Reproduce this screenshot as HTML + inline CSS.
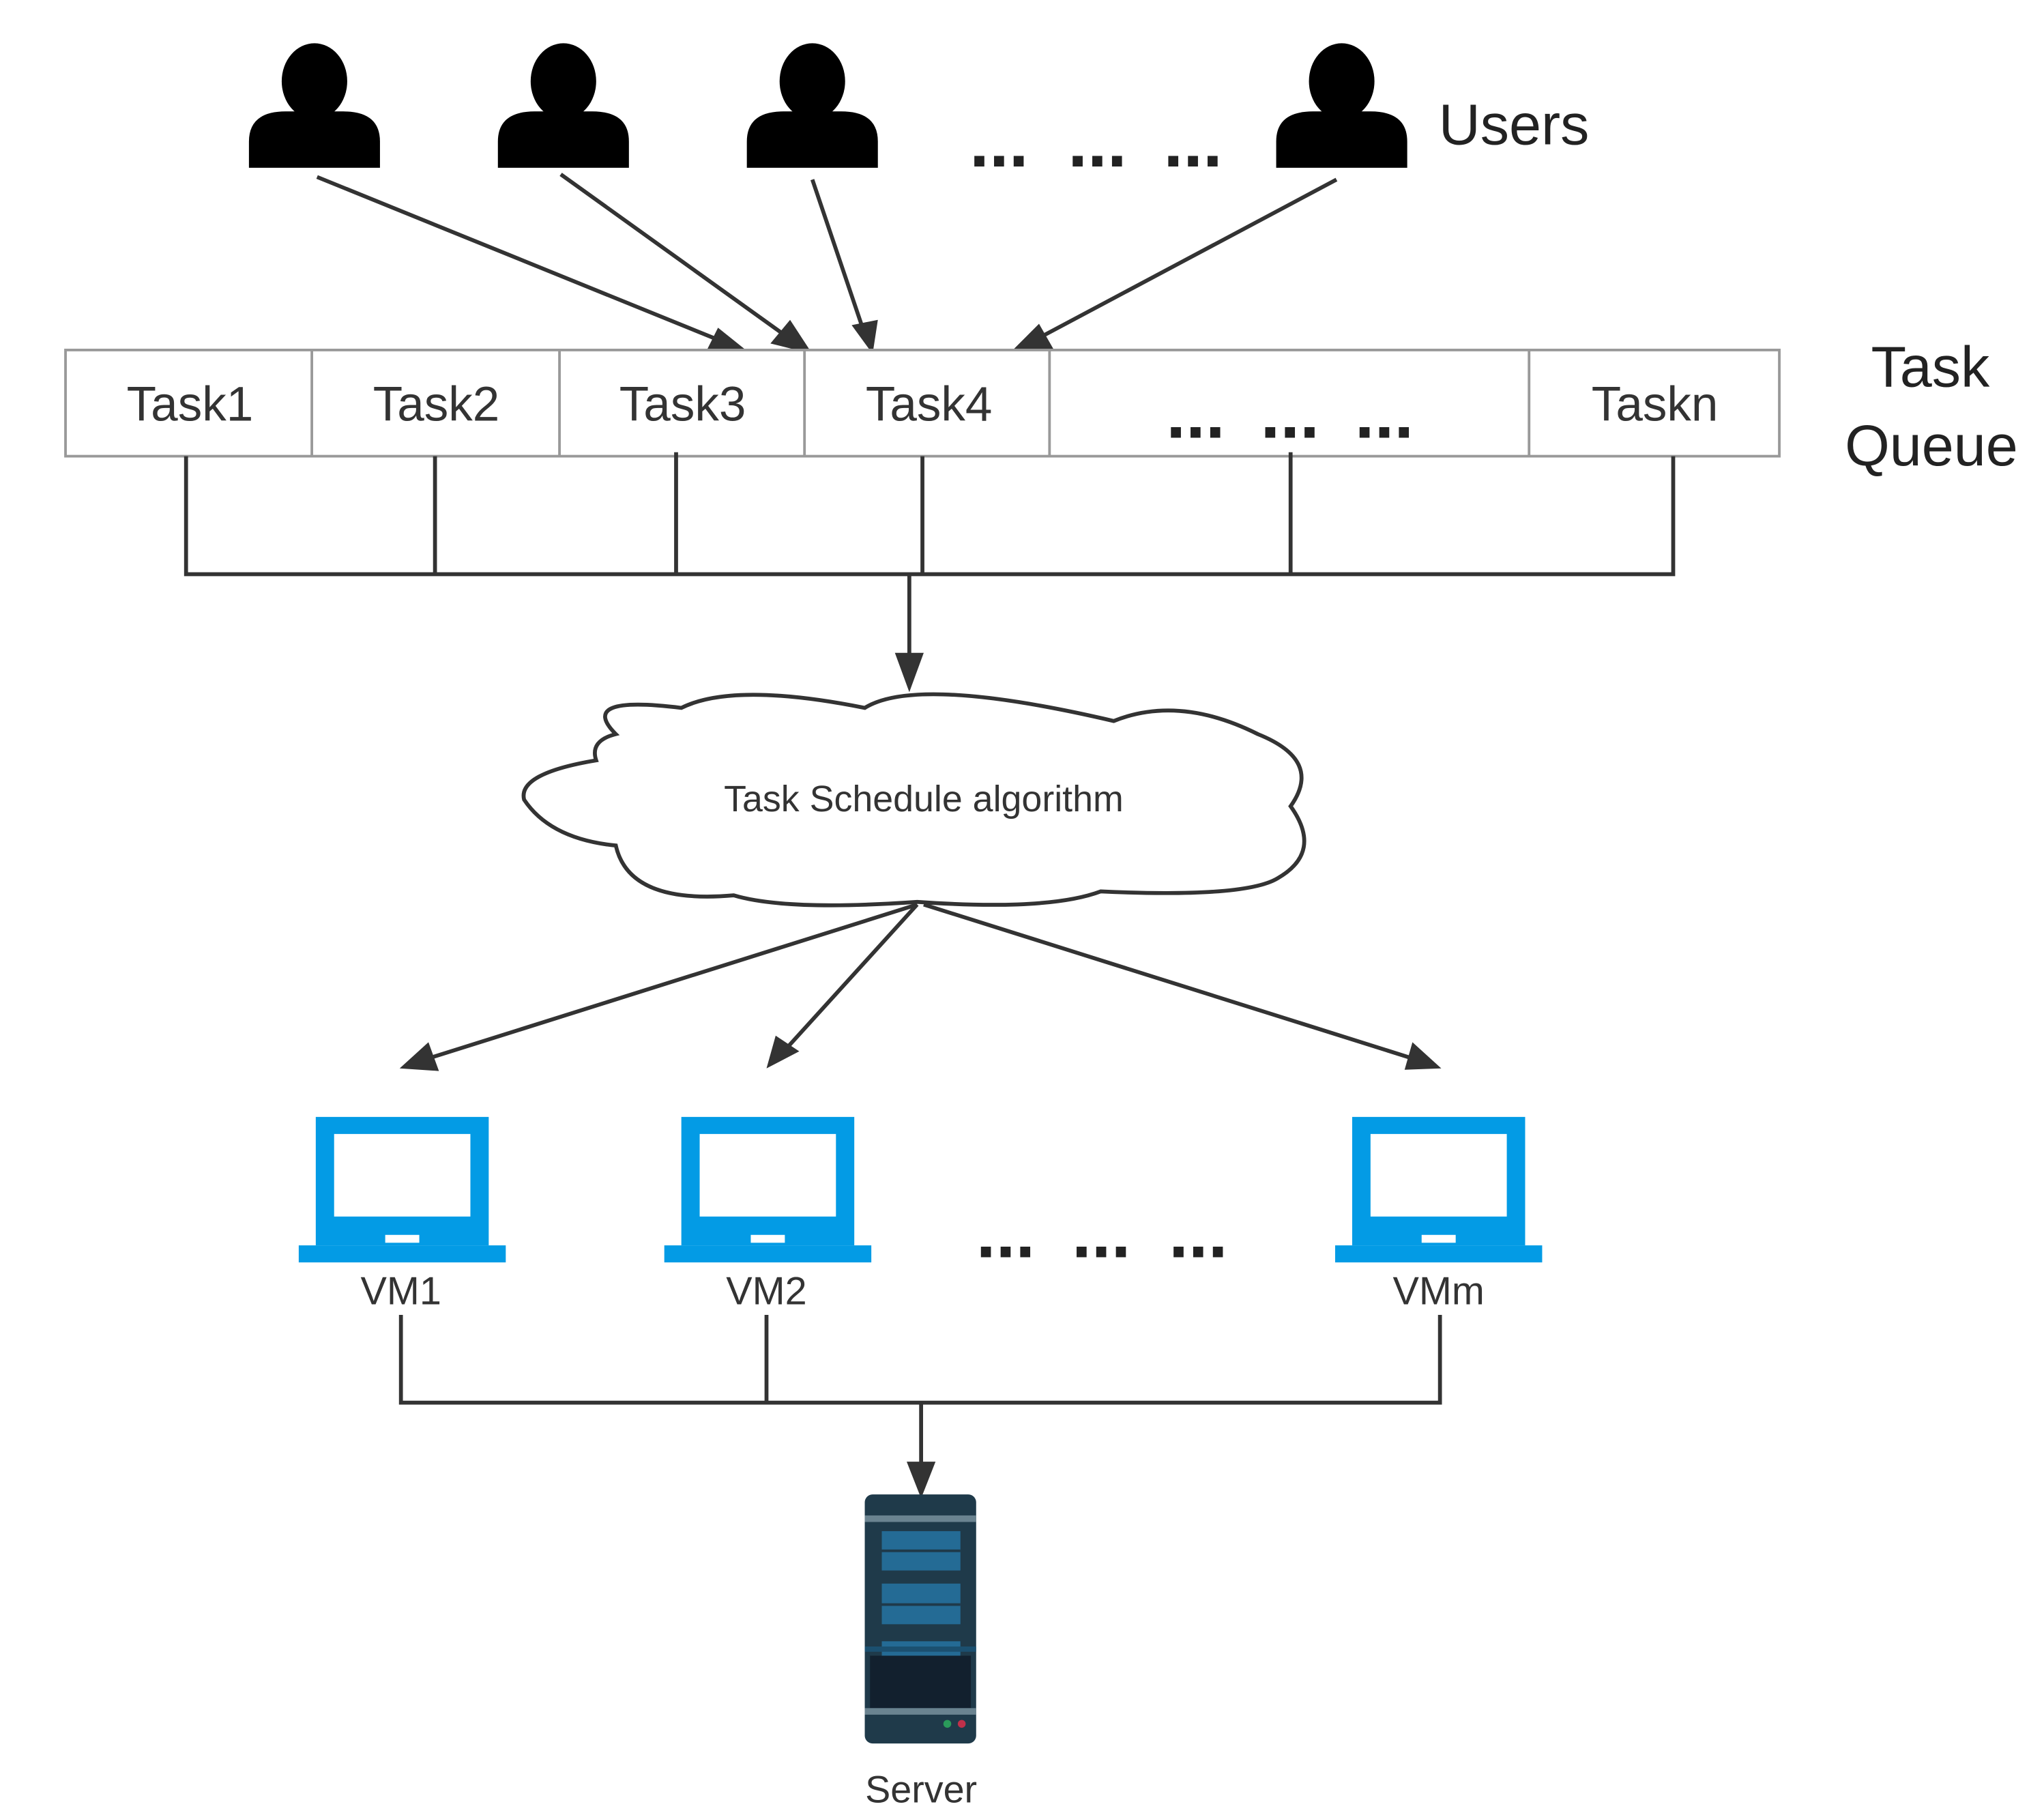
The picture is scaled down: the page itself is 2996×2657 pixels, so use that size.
<!DOCTYPE html>
<html><head><meta charset="utf-8"><style>
html,body{margin:0;padding:0;background:#fff}
svg{display:block}
text{font-family:"Liberation Sans",sans-serif}
</style></head><body>
<svg width="2996" height="2657" viewBox="0 0 1560 1383" preserveAspectRatio="none" xmlns="http://www.w3.org/2000/svg">
<rect width="1560" height="1383" fill="#fff"/>
<!-- users -->
<g fill="#000">
<g transform="translate(240,0)"><ellipse cx="0" cy="62" rx="25" ry="29"/><path d="M-50 128 L-50 108 Q-50 85 -22 85 L22 85 Q50 85 50 108 L50 128 Z"/></g>
<g transform="translate(430,0)"><ellipse cx="0" cy="62" rx="25" ry="29"/><path d="M-50 128 L-50 108 Q-50 85 -22 85 L22 85 Q50 85 50 108 L50 128 Z"/></g>
<g transform="translate(620,0)"><ellipse cx="0" cy="62" rx="25" ry="29"/><path d="M-50 128 L-50 108 Q-50 85 -22 85 L22 85 Q50 85 50 108 L50 128 Z"/></g>
<g transform="translate(1024,0)"><ellipse cx="0" cy="62" rx="25" ry="29"/><path d="M-50 128 L-50 108 Q-50 85 -22 85 L22 85 Q50 85 50 108 L50 128 Z"/></g>
</g>
<text x="1098" y="110" font-size="44" fill="#222">Users</text>
<!-- user arrows -->
<g stroke="#333" stroke-width="3" fill="none">
<line x1="242" y1="135" x2="555" y2="262"/>
<line x1="428" y1="133" x2="605" y2="260"/>
<line x1="620" y1="137" x2="660" y2="255"/>
<line x1="1020" y1="137" x2="785" y2="262"/>
</g>
<g fill="#333">
<polygon points="573,270 538,270 548,250"/>
<polygon points="620,270 588,262 603,244"/>
<polygon points="666,270 650,248 670,244"/>
<polygon points="770,270 793,247 805,268"/>
</g>
<!-- task queue -->
<rect x="50" y="267" width="1308" height="81" fill="#fff" stroke="#999" stroke-width="2"/>
<g stroke="#999" stroke-width="2"><line x1="238" y1="267" x2="238" y2="348"/><line x1="427" y1="267" x2="427" y2="348"/><line x1="614" y1="267" x2="614" y2="348"/><line x1="801" y1="267" x2="801" y2="348"/><line x1="1167" y1="267" x2="1167" y2="348"/></g>
<g font-size="37" fill="#333" text-anchor="middle">
<text x="145" y="321">Task1</text><text x="333" y="321">Task2</text><text x="521" y="321">Task3</text><text x="709" y="321">Task4</text><text x="1263" y="321">Taskn</text>
</g>
<g font-size="54" font-weight="bold" fill="#222">
<text x="740" y="127">...</text><text x="815" y="127">...</text><text x="888" y="127">...</text>
<text x="890" y="334">...</text><text x="962" y="334">...</text><text x="1034" y="334">...</text>
<text x="745" y="959">...</text><text x="818" y="959">...</text><text x="892" y="959">...</text>
</g>
<text x="1428" y="295" font-size="44" fill="#222">Task</text>
<text x="1408" y="355" font-size="44" fill="#222">Queue</text>
<g stroke="#333" stroke-width="3" fill="none">
<polyline points="142,348 142,438 1277,438 1277,348"/>
<line x1="332" y1="348" x2="332" y2="438"/><line x1="516" y1="345" x2="516" y2="438"/><line x1="704" y1="348" x2="704" y2="438"/><line x1="985" y1="345" x2="985" y2="438"/>
<line x1="694" y1="438" x2="694" y2="505"/>
</g>
<polygon points="694,528 683,498 705,498" fill="#333"/>
<!-- cloud -->
<path d="M470 560 Q440 530 520 540 Q560 520 660 540 Q700 515 850 550 Q900 530 960 560 Q1010 580 985 615 Q1010 650 975 670 Q950 685 840 680 Q800 695 700 688 Q600 695 560 683 Q480 690 470 645 Q420 640 400 610 Q395 590 455 580 Q450 565 470 560 Z" fill="#fff" stroke="#333" stroke-width="3"/>
<text x="705" y="619" font-size="28" fill="#333" text-anchor="middle">Task Schedule algorithm</text>
<!-- cloud arrows -->
<g stroke="#333" stroke-width="3"><line x1="700" y1="690" x2="325" y2="808"/><line x1="700" y1="690" x2="600" y2="800"/><line x1="705" y1="690" x2="1080" y2="808"/></g>
<g fill="#333">
<polygon points="305,815 327,795 335,817"/>
<polygon points="585,815 592,790 610,802"/>
<polygon points="1100,815 1072,816 1078,795"/>
</g>
<!-- laptops -->
<g fill="#039be5">
<g transform="translate(228,0)"><path d="M13 852 H145 V950 H13 Z M27 865 V928 H131 V865 Z" fill-rule="evenodd"/><rect x="0" y="950" width="158" height="13"/><rect x="66" y="942" width="26" height="6" fill="#fff"/></g>
<g transform="translate(507,0)"><path d="M13 852 H145 V950 H13 Z M27 865 V928 H131 V865 Z" fill-rule="evenodd"/><rect x="0" y="950" width="158" height="13"/><rect x="66" y="942" width="26" height="6" fill="#fff"/></g>
<g transform="translate(1019,0)"><path d="M13 852 H145 V950 H13 Z M27 865 V928 H131 V865 Z" fill-rule="evenodd"/><rect x="0" y="950" width="158" height="13"/><rect x="66" y="942" width="26" height="6" fill="#fff"/></g>
</g>
<g font-size="30" fill="#333" text-anchor="middle"><text x="306" y="995">VM1</text><text x="585" y="995">VM2</text><text x="1098" y="995">VMm</text></g>
<g stroke="#333" stroke-width="3" fill="none">
<polyline points="306,1003 306,1070 1099,1070 1099,1003"/>
<line x1="585" y1="1003" x2="585" y2="1070"/>
<line x1="703" y1="1070" x2="703" y2="1120"/>
</g>
<polygon points="703,1143 692,1115 714,1115" fill="#333"/>
<!-- server -->
<rect x="660" y="1140" width="85" height="190" rx="6" fill="#1f3a4a"/>
<rect x="660" y="1156" width="85" height="5" fill="#6a8390"/>
<rect x="673" y="1168" width="60" height="30" fill="#246b95"/>
<rect x="673" y="1182" width="60" height="2" fill="#1f3a4a"/>
<rect x="673" y="1208" width="60" height="31" fill="#246b95"/>
<rect x="673" y="1223" width="60" height="2" fill="#1f3a4a"/>
<rect x="673" y="1252" width="60" height="30" fill="#246b95"/>
<rect x="673" y="1266" width="60" height="2" fill="#1f3a4a"/>
<rect x="660" y="1256" width="85" height="4" fill="#1b5070"/>
<rect x="664" y="1263" width="77" height="40" fill="#12202e"/>
<rect x="660" y="1303" width="85" height="5" fill="#6a8390"/>
<circle cx="723" cy="1315" r="3" fill="#2a9a5a"/><circle cx="734" cy="1315" r="3" fill="#c0304a"/>
<text x="703" y="1375" font-size="29" fill="#333" text-anchor="middle">Server</text>
</svg>
</body></html>
